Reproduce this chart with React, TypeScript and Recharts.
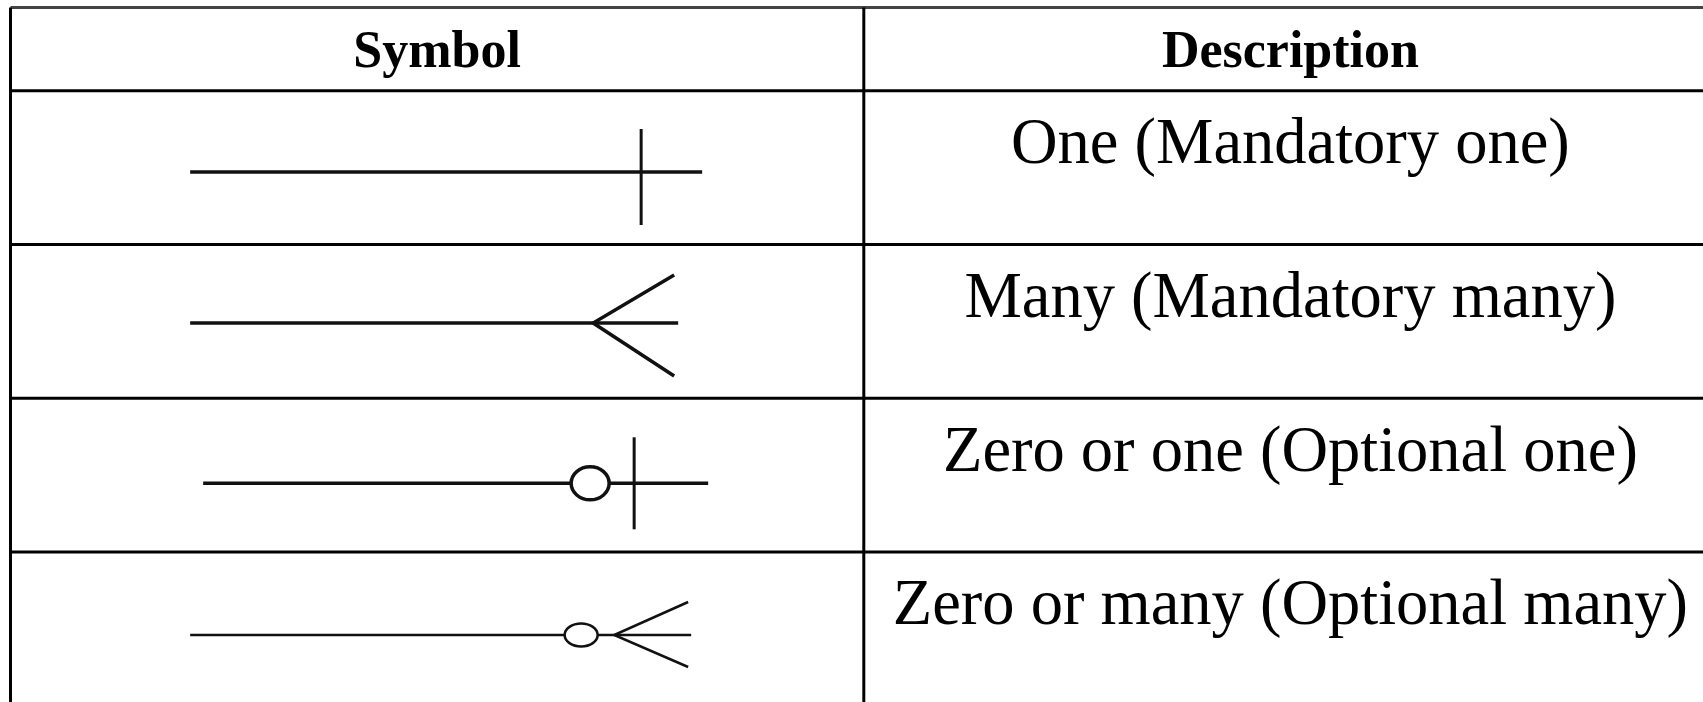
import { ScatterChart, Scatter, XAxis, YAxis, ReferenceLine } from 'recharts';

// table content
const headers = ['Symbol', 'Description'];
const descriptions = [
  'One (Mandatory one)',
  'Many (Mandatory many)',
  'Zero or one (Optional one)',
  'Zero or many (Optional many)',
];
const symbolKinds = ['one', 'many', 'zeroOrOne', 'zeroOrMany'];

// header row height, in body-row units
const HEADER_H = 0.541;
const FONT = '"Liberation Serif", "Times New Roman", serif';

// marker glyphs, pixel offsets from the cell anchor
const GLYPHS: Record<string, any> = {
  one: { dy: 4.4, w: 3.5, line: [-247, 265], bar: { x: 204, y0: -43, y1: 53 } },
  many: { dy: 1.6, w: 3.5, line: [-247, 241], foot: { apex: 156, x: 237, up: -48, down: 53 } },
  zeroOrOne: {
    dy: 8.1,
    w: 3.5,
    line: [-234, 271],
    ring: { x: 153, rx: 19, ry: 16.5 },
    bar: { x: 197, y0: -46, y1: 46 },
  },
  zeroOrMany: {
    dy: 6,
    w: 2.5,
    line: [-247, 254],
    ring: { x: 144, rx: 16.5, ry: 11.5 },
    foot: { apex: 177, x: 251, up: -33, down: 32 },
  },
};

const headerCells = headers.map((label, i) => ({ col: i + 0.5, row: HEADER_H / 2, label }));
const symbolCells = symbolKinds.map((kind, i) => ({ col: 0.5, row: HEADER_H + i + 0.5, kind }));
const descCells = descriptions.map((label, i) => ({ col: 1.5, row: HEADER_H + i + 0.5, label }));

const rowLines = [0, ...descriptions.map((_, i) => HEADER_H + i), HEADER_H + descriptions.length];
const colLines = [0, 1, 2];

const HeaderText = (props: any) => (
  <text
    x={props.cx}
    y={props.cy + 17.4}
    textAnchor="middle"
    fontFamily={FONT}
    fontWeight="bold"
    fontSize={52}
    fill="#000"
  >
    {props.payload.label}
  </text>
);

const DescText = (props: any) => (
  <text x={props.cx} y={props.cy - 4.6} textAnchor="middle" fontFamily={FONT} fontSize={64.5} fill="#000">
    {props.payload.label}
  </text>
);

const SymbolGlyph = (props: any) => {
  const g = GLYPHS[props.payload.kind];
  const x = props.cx;
  const y = props.cy + g.dy;
  return (
    <g stroke="#111" strokeWidth={g.w} fill="none">
      <line x1={x + g.line[0]} y1={y} x2={x + g.line[1]} y2={y} />
      {g.foot && (
        <polyline
          points={`${x + g.foot.x},${y + g.foot.up} ${x + g.foot.apex},${y} ${x + g.foot.x},${y + g.foot.down}`}
          strokeLinejoin="miter"
        />
      )}
      {g.ring && <ellipse cx={x + g.ring.x} cy={y} rx={g.ring.rx} ry={g.ring.ry} fill="#fff" />}
      {g.bar && <line x1={x + g.bar.x} y1={y + g.bar.y0} x2={x + g.bar.x} y2={y + g.bar.y1} strokeWidth={3} />}
    </g>
  );
};

export default function App() {
  return (
    <div
      style={{
        position: 'absolute',
        left: 0,
        top: 0,
        width: 1703,
        height: 702,
        overflow: 'hidden',
        background: '#fff',
      }}
    >
      <ScatterChart width={1720} height={710} margin={{ top: 7.5, right: 2.9, bottom: 4.1, left: 10.5 }}>
        <XAxis type="number" dataKey="col" domain={[0, 2]} hide />
        <YAxis type="number" dataKey="row" domain={[0, HEADER_H + descriptions.length]} reversed hide />
        {rowLines.map((v, i) => (
          <ReferenceLine key={`r${i}`} y={v} stroke={i === 0 ? '#444' : '#000'} strokeWidth={3} />
        ))}
        {colLines.map((v) => (
          <ReferenceLine key={`c${v}`} x={v} stroke="#000" strokeWidth={3} />
        ))}
        <Scatter data={headerCells} shape={HeaderText} isAnimationActive={false} />
        <Scatter data={symbolCells} shape={SymbolGlyph} isAnimationActive={false} />
        <Scatter data={descCells} shape={DescText} isAnimationActive={false} />
      </ScatterChart>
    </div>
  );
}
